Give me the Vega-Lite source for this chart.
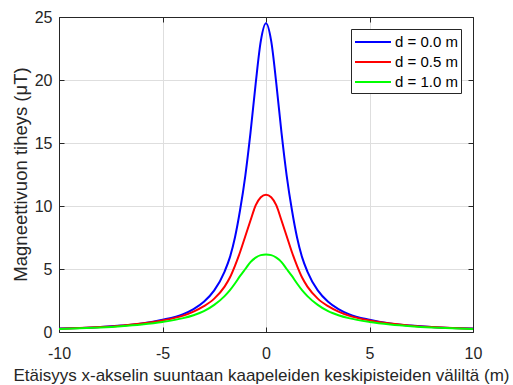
{
  "$schema": "https://vega.github.io/schema/vega-lite/v6.json",
  "width": 414,
  "height": 315,
  "autosize": "none",
  "padding": {"left": 59, "top": 17, "right": 40, "bottom": 53},
  "background": "white",
  "config": {
    "font": "Liberation Sans",
    "view": {"stroke": null},
    "axis": {
      "domainColor": "#262626",
      "domainWidth": 1,
      "tickColor": "#262626",
      "tickSize": -5,
      "labelColor": "#262626",
      "labelFont": "Liberation Sans",
      "labelFontSize": 16,
      "titleFont": "Liberation Sans",
      "titleFontWeight": "normal",
      "titleColor": "#262626",
      "gridColor": "#dedede",
      "gridWidth": 1
    }
  },
  "data": {
    "values": [
      {"x": -10, "B": 0.27, "d": "d = 0.0 m"}, {"x": -9, "B": 0.32, "d": "d = 0.0 m"}, {"x": -8, "B": 0.39, "d": "d = 0.0 m"}, {"x": -7, "B": 0.51, "d": "d = 0.0 m"}, {"x": -6, "B": 0.68, "d": "d = 0.0 m"}, {"x": -5, "B": 0.97, "d": "d = 0.0 m"}, {"x": -4, "B": 1.42, "d": "d = 0.0 m"}, {"x": -3.5, "B": 1.82, "d": "d = 0.0 m"}, {"x": -3, "B": 2.4, "d": "d = 0.0 m"}, {"x": -2.5, "B": 3.3, "d": "d = 0.0 m"}, {"x": -2, "B": 4.8, "d": "d = 0.0 m"}, {"x": -1.75, "B": 5.9, "d": "d = 0.0 m"}, {"x": -1.5, "B": 7.5, "d": "d = 0.0 m"}, {"x": -1.25, "B": 9.7, "d": "d = 0.0 m"}, {"x": -1, "B": 12.4, "d": "d = 0.0 m"}, {"x": -0.75, "B": 15.8, "d": "d = 0.0 m"}, {"x": -0.5, "B": 19.7, "d": "d = 0.0 m"}, {"x": -0.25, "B": 23.1, "d": "d = 0.0 m"}, {"x": 0, "B": 24.5, "d": "d = 0.0 m"}, {"x": 0.25, "B": 23.1, "d": "d = 0.0 m"}, {"x": 0.5, "B": 19.7, "d": "d = 0.0 m"}, {"x": 0.75, "B": 15.8, "d": "d = 0.0 m"}, {"x": 1, "B": 12.4, "d": "d = 0.0 m"}, {"x": 1.25, "B": 9.7, "d": "d = 0.0 m"}, {"x": 1.5, "B": 7.5, "d": "d = 0.0 m"}, {"x": 1.75, "B": 5.9, "d": "d = 0.0 m"}, {"x": 2, "B": 4.8, "d": "d = 0.0 m"}, {"x": 2.5, "B": 3.3, "d": "d = 0.0 m"}, {"x": 3, "B": 2.4, "d": "d = 0.0 m"}, {"x": 3.5, "B": 1.82, "d": "d = 0.0 m"}, {"x": 4, "B": 1.42, "d": "d = 0.0 m"}, {"x": 5, "B": 0.97, "d": "d = 0.0 m"}, {"x": 6, "B": 0.68, "d": "d = 0.0 m"}, {"x": 7, "B": 0.51, "d": "d = 0.0 m"}, {"x": 8, "B": 0.39, "d": "d = 0.0 m"}, {"x": 9, "B": 0.32, "d": "d = 0.0 m"}, {"x": 10, "B": 0.27, "d": "d = 0.0 m"},
      {"x": -10, "B": 0.26, "d": "d = 0.5 m"}, {"x": -9, "B": 0.31, "d": "d = 0.5 m"}, {"x": -8, "B": 0.39, "d": "d = 0.5 m"}, {"x": -7, "B": 0.5, "d": "d = 0.5 m"}, {"x": -6, "B": 0.67, "d": "d = 0.5 m"}, {"x": -5, "B": 0.92, "d": "d = 0.5 m"}, {"x": -4, "B": 1.3, "d": "d = 0.5 m"}, {"x": -3.5, "B": 1.62, "d": "d = 0.5 m"}, {"x": -3, "B": 2.05, "d": "d = 0.5 m"}, {"x": -2.5, "B": 2.65, "d": "d = 0.5 m"}, {"x": -2, "B": 3.6, "d": "d = 0.5 m"}, {"x": -1.75, "B": 4.3, "d": "d = 0.5 m"}, {"x": -1.5, "B": 5.25, "d": "d = 0.5 m"}, {"x": -1.25, "B": 6.35, "d": "d = 0.5 m"}, {"x": -1, "B": 7.6, "d": "d = 0.5 m"}, {"x": -0.75, "B": 8.85, "d": "d = 0.5 m"}, {"x": -0.5, "B": 10.05, "d": "d = 0.5 m"}, {"x": -0.25, "B": 10.7, "d": "d = 0.5 m"}, {"x": 0, "B": 10.9, "d": "d = 0.5 m"}, {"x": 0.25, "B": 10.7, "d": "d = 0.5 m"}, {"x": 0.5, "B": 10.05, "d": "d = 0.5 m"}, {"x": 0.75, "B": 8.85, "d": "d = 0.5 m"}, {"x": 1, "B": 7.6, "d": "d = 0.5 m"}, {"x": 1.25, "B": 6.35, "d": "d = 0.5 m"}, {"x": 1.5, "B": 5.25, "d": "d = 0.5 m"}, {"x": 1.75, "B": 4.3, "d": "d = 0.5 m"}, {"x": 2, "B": 3.6, "d": "d = 0.5 m"}, {"x": 2.5, "B": 2.65, "d": "d = 0.5 m"}, {"x": 3, "B": 2.05, "d": "d = 0.5 m"}, {"x": 3.5, "B": 1.62, "d": "d = 0.5 m"}, {"x": 4, "B": 1.3, "d": "d = 0.5 m"}, {"x": 5, "B": 0.92, "d": "d = 0.5 m"}, {"x": 6, "B": 0.67, "d": "d = 0.5 m"}, {"x": 7, "B": 0.5, "d": "d = 0.5 m"}, {"x": 8, "B": 0.39, "d": "d = 0.5 m"}, {"x": 9, "B": 0.31, "d": "d = 0.5 m"}, {"x": 10, "B": 0.26, "d": "d = 0.5 m"},
      {"x": -10, "B": 0.24, "d": "d = 1.0 m"}, {"x": -9, "B": 0.29, "d": "d = 1.0 m"}, {"x": -8, "B": 0.36, "d": "d = 1.0 m"}, {"x": -7, "B": 0.46, "d": "d = 1.0 m"}, {"x": -6, "B": 0.6, "d": "d = 1.0 m"}, {"x": -5, "B": 0.8, "d": "d = 1.0 m"}, {"x": -4, "B": 1.1, "d": "d = 1.0 m"}, {"x": -3.5, "B": 1.33, "d": "d = 1.0 m"}, {"x": -3, "B": 1.65, "d": "d = 1.0 m"}, {"x": -2.5, "B": 2.15, "d": "d = 1.0 m"}, {"x": -2, "B": 2.85, "d": "d = 1.0 m"}, {"x": -1.75, "B": 3.3, "d": "d = 1.0 m"}, {"x": -1.5, "B": 3.85, "d": "d = 1.0 m"}, {"x": -1.25, "B": 4.45, "d": "d = 1.0 m"}, {"x": -1, "B": 5.0, "d": "d = 1.0 m"}, {"x": -0.75, "B": 5.55, "d": "d = 1.0 m"}, {"x": -0.5, "B": 5.9, "d": "d = 1.0 m"}, {"x": -0.25, "B": 6.1, "d": "d = 1.0 m"}, {"x": 0, "B": 6.15, "d": "d = 1.0 m"}, {"x": 0.25, "B": 6.1, "d": "d = 1.0 m"}, {"x": 0.5, "B": 5.9, "d": "d = 1.0 m"}, {"x": 0.75, "B": 5.55, "d": "d = 1.0 m"}, {"x": 1, "B": 5.0, "d": "d = 1.0 m"}, {"x": 1.25, "B": 4.45, "d": "d = 1.0 m"}, {"x": 1.5, "B": 3.85, "d": "d = 1.0 m"}, {"x": 1.75, "B": 3.3, "d": "d = 1.0 m"}, {"x": 2, "B": 2.85, "d": "d = 1.0 m"}, {"x": 2.5, "B": 2.15, "d": "d = 1.0 m"}, {"x": 3, "B": 1.65, "d": "d = 1.0 m"}, {"x": 3.5, "B": 1.33, "d": "d = 1.0 m"}, {"x": 4, "B": 1.1, "d": "d = 1.0 m"}, {"x": 5, "B": 0.8, "d": "d = 1.0 m"}, {"x": 6, "B": 0.6, "d": "d = 1.0 m"}, {"x": 7, "B": 0.46, "d": "d = 1.0 m"}, {"x": 8, "B": 0.36, "d": "d = 1.0 m"}, {"x": 9, "B": 0.29, "d": "d = 1.0 m"}, {"x": 10, "B": 0.24, "d": "d = 1.0 m"}
    ]
  },
  "resolve": {"axis": {"x": "independent", "y": "independent"}},
  "layer": [
    {
      "mark": {"type": "line", "strokeWidth": 2, "interpolate": "monotone"},
      "encoding": {
        "x": {
          "field": "x", "type": "quantitative",
          "scale": {"domain": [-10, 10], "nice": false, "zero": false},
          "axis": {"orient": "bottom", "values": [-10, -5, 0, 5, 10], "grid": true,
                   "labelPadding": 18, "labelFlush": false, "labelExpr": "'' + datum.value",
                   "title": "Etäisyys x-akselin suuntaan kaapeleiden keskipisteiden väliltä (m)",
                   "titleFontSize": 17, "titleBaseline": "top", "titleX": 202, "titleY": 35, "titleAnchor": "middle", "titleAlign": "center"}
        },
        "y": {
          "field": "B", "type": "quantitative",
          "scale": {"domain": [0, 25], "nice": false},
          "axis": {"orient": "left", "values": [0, 5, 10, 15, 20, 25], "grid": true,
                   "labelPadding": 12, "labelFlush": false,
                   "title": "Magneettivuon tiheys (μT)",
                   "titleFontSize": 18.5, "titleAngle": -90, "titleBaseline": "top", "titleX": -48, "titleY": 157, "titleAlign": "center"}
        },
        "color": {
          "field": "d", "type": "nominal",
          "scale": {"domain": ["d = 0.0 m", "d = 0.5 m", "d = 1.0 m"], "range": ["#0000ff", "#ff0000", "#00ff00"]},
          "legend": {
            "title": null, "orient": "none", "legendX": 292, "legendY": 12,
            "fillColor": "white", "strokeColor": "#262626", "padding": 3,
            "symbolType": "M-1,0H3", "symbolStrokeWidth": 2, "symbolSize": 324,
            "labelFontSize": 15, "labelColor": "#000000", "labelOffset": 21, "rowPadding": 2
          }
        }
      }
    },
    {
      "mark": {"type": "line", "strokeOpacity": 0},
      "encoding": {
        "x": {"field": "x", "type": "quantitative",
              "axis": {"orient": "top", "values": [-10, -5, 0, 5, 10], "labels": false, "grid": false, "title": null}},
        "y": {"field": "B", "type": "quantitative",
              "axis": {"orient": "right", "values": [0, 5, 10, 15, 20, 25], "labels": false, "grid": false, "title": null}},
        "detail": {"field": "d"}
      }
    }
  ]
}
